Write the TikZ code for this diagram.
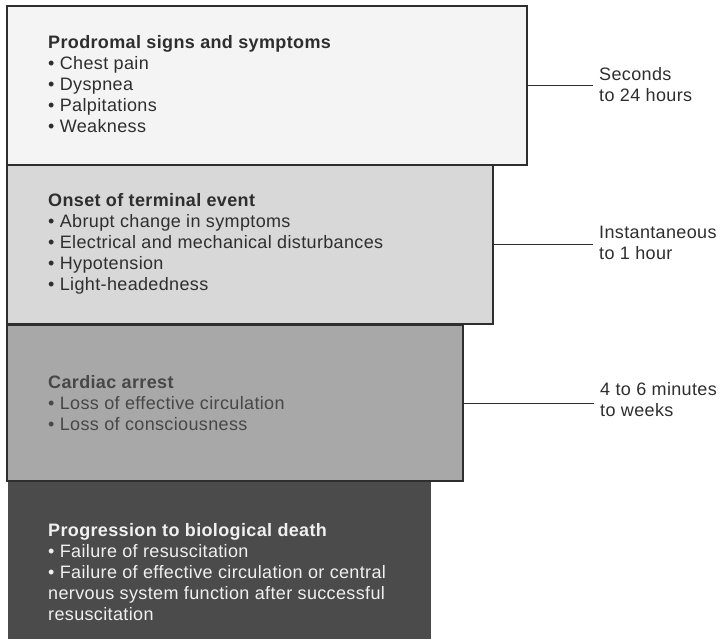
\documentclass[tikz,border=0pt]{standalone}
\usepackage{fontspec}
\setmainfont{Liberation Sans}[LetterSpace=2]
\definecolor{prodromalgray}{HTML}{F4F4F4}
\definecolor{onsetgray}{HTML}{D8D8D8}
\definecolor{arrestgray}{HTML}{A8A8A8}
\definecolor{deathgray}{HTML}{4B4B4B}
\definecolor{inkgray}{HTML}{2E2E2E}

\begin{document}
\begin{tikzpicture}[x=1pt, y=-1pt,
    stage/.style={draw=inkgray, line width=1.2pt, anchor=north west, inner sep=0pt},
    stagetext/.style={anchor=north west, align=left, inner sep=0pt, text=inkgray,
        font=\fontsize{18}{21}\selectfont},
    timetext/.style={anchor=west, align=left, inner xsep=6pt, inner ysep=0pt, text=inkgray,
        font=\fontsize{18}{21}\selectfont}]
    \useasboundingbox (0,0) rectangle (723,638);
    % stages
    \node[stage, fill=prodromalgray, minimum width=519pt, minimum height=158pt] (prodromal) at (7,6) {};
    \node[stage, fill=onsetgray, minimum width=485pt, minimum height=158pt] (onset) at (prodromal.south west) {};
    \node[stage, fill=arrestgray, minimum width=455pt, minimum height=156pt] (arrest) at (onset.south west) {};
    \node[stage, draw=none, fill=deathgray, minimum width=423pt, minimum height=162pt] (death) at (arrest.south west) {};
    % redraw borders on top
    \draw[draw=inkgray, line width=1.2pt] (prodromal.south west) rectangle (prodromal.north east);
    \draw[draw=inkgray, line width=1.2pt] (onset.south west) rectangle (onset.north east);
    \draw[draw=inkgray, line width=1.2pt] (arrest.south west) rectangle (arrest.north east);
    % texts
    \node[stagetext] (prodromaltext) at ([shift={(41,29)}]prodromal.north west)
        {\textbf{Prodromal signs and symptoms}\\• Chest pain\\• Dyspnea\\• Palpitations\\• Weakness};
    \node[stagetext] (onsettext) at ([shift={(41,28)}]onset.north west)
        {\textbf{Onset of terminal event}\\• Abrupt change in symptoms\\• Electrical and mechanical disturbances\\• Hypotension\\• Light-headedness};
    \node[stagetext, text=black!72] (arresttext) at ([shift={(41,51)}]arrest.north west)
        {\textbf{Cardiac arrest}\\• Loss of effective circulation\\• Loss of consciousness};
    \node[stagetext, text=white!94!black] (deathtext) at ([shift={(41,42)}]death.north west)
        {\textbf{Progression to biological death}\\• Failure of resuscitation\\• Failure of effective circulation or central\\nervous system function after successful\\resuscitation};
    % durations
    \node[timetext] (secs) at (593,85) {Seconds\\to 24 hours};
    \node[timetext] (inst) at (593,243) {Instantaneous\\to 1 hour};
    \node[timetext] (mins) at (594,400) {4 to 6 minutes\\to weeks};
    \draw[inkgray, line width=0.8pt] (prodromal.east) -- (prodromal.east -| secs.west);
    \draw[inkgray, line width=0.8pt] (onset.east) -- (onset.east -| inst.west);
    \draw[inkgray, line width=0.8pt] (arrest.east) -- (arrest.east -| mins.west);
\end{tikzpicture}
\end{document}
